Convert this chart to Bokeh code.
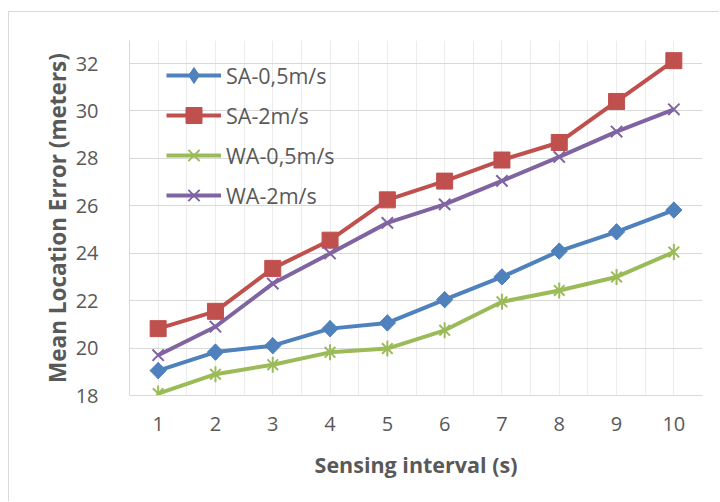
from bokeh.plotting import figure
from bokeh.models import Range1d, FixedTicker, Legend
from bokeh.embed import file_html
from bokeh.resources import INLINE
import math

# ---- data ----
intervals = [1, 2, 3, 4, 5, 6, 7, 8, 9, 10]
sa_05 = [19.05, 19.83, 20.1, 20.82, 21.06, 22.04, 23.0, 24.09, 24.9, 25.82]
sa_2 = [20.82, 21.55, 23.36, 24.55, 26.25, 27.04, 27.93, 28.67, 30.4, 32.12]
wa_05 = [18.08, 18.9, 19.3, 19.82, 19.98, 20.75, 21.95, 22.43, 23.0, 24.05]
wa_2 = [19.7, 20.9, 22.72, 23.99, 25.28, 26.06, 27.05, 28.06, 29.13, 30.07]
y_ticks = [18, 20, 22, 24, 26, 28, 30, 32]
series_names = ["SA-0,5m/s", "SA-2m/s", "WA-0,5m/s", "WA-2m/s"]
colors = ["#4F81BD", "#C0504D", "#9BBB59", "#8064A2"]

TXT = "#595959"
FONT = "Open Sans"

p = figure(width=711, height=490, output_backend="svg", toolbar_location=None,
           x_range=Range1d(0.5, 10.5), y_range=Range1d(18, 32.97),
           min_border_left=120, min_border_right=18, min_border_top=28, min_border_bottom=107)
p.styles = {"border-left": "1px solid #d9d9d9", "border-top": "1px solid #d9d9d9",
            "margin-left": "8px", "margin-top": "11px"}
p.outline_line_color = None
p.background_fill_color = "white"
p.border_fill_color = "white"

# grids
p.xgrid.ticker = FixedTicker(ticks=[x - 0.5 for x in intervals] + [x for x in intervals] + [intervals[-1] + 0.5])
p.xgrid.grid_line_color = "#ececec"
p.xgrid.grid_line_width = 1
p.ygrid.ticker = FixedTicker(ticks=y_ticks)
p.ygrid.grid_line_color = "#d9d9d9"
p.ygrid.grid_line_width = 1

# axes
for ax in (p.xaxis, p.yaxis):
    ax.axis_line_color = "#d9d9d9"
    ax.axis_line_width = 1
    ax.major_tick_line_color = None
    ax.minor_tick_line_color = None
    ax.major_tick_out = 0
    ax.major_tick_in = 0
    ax.major_label_text_font = FONT
    ax.major_label_text_font_size = "20px"
    ax.major_label_text_color = TXT
    ax.axis_label_text_font = FONT
    ax.axis_label_text_font_style = "bold"
    ax.axis_label_text_color = TXT

p.xaxis.ticker = FixedTicker(ticks=intervals)
p.yaxis.ticker = FixedTicker(ticks=y_ticks)
p.xaxis.major_label_standoff = 21
p.yaxis.major_label_standoff = 31
p.xaxis.axis_label = "Sensing interval (s)"
p.yaxis.axis_label = "Mean Location Error (meters)"
p.xaxis.axis_label_text_font_size = "21.5px"
p.yaxis.axis_label_text_font_size = "22.5px"
p.xaxis.axis_label_standoff = 16
p.yaxis.axis_label_standoff = 0

LW = 4
# SA-0,5 : diamond
r1 = p.line(intervals, sa_05, line_color=colors[0], line_width=LW)
leg1 = p.scatter(intervals, sa_05, marker="diamond", size=16, fill_color=colors[0], line_color=colors[0])
m1 = p.scatter(intervals, sa_05, marker="square", angle=math.pi / 4, size=11.5,
               fill_color=colors[0], line_color=colors[0])
# SA-2 : square
r2 = p.line(intervals, sa_2, line_color=colors[1], line_width=LW)
m2 = p.scatter(intervals, sa_2, marker="square", size=16,
               fill_color=colors[1], line_color=colors[1])
# WA-0,5 : star (x + vertical bar)
r3 = p.line(intervals, wa_05, line_color=colors[2], line_width=LW)
m3 = p.scatter(intervals, wa_05, marker="x", size=15, line_color=colors[2], line_width=2)
m3b = p.scatter(intervals, wa_05, marker="dash", angle=math.pi / 2, size=16,
                line_color=colors[2], line_width=2)
# WA-2 : x
r4 = p.line(intervals, wa_2, line_color=colors[3], line_width=LW)
m4 = p.scatter(intervals, wa_2, marker="x", size=16, line_color=colors[3], line_width=2)

legend = Legend(items=[(series_names[0], [r1, leg1]),
                       (series_names[1], [r2, m2]),
                       (series_names[2], [r3, m3, m3b]),
                       (series_names[3], [r4, m4])],
                location=(37, 180))
legend.background_fill_alpha = 0
legend.border_line_alpha = 0
legend.margin = 0
legend.padding = 0
legend.spacing = 0
legend.glyph_width = 55
legend.glyph_height = 40
legend.label_height = 40
legend.label_standoff = 5
legend.label_text_font = FONT
legend.label_text_font_size = "21.5px"
legend.label_text_color = TXT
p.add_layout(legend)

open("out.html", "w").write(file_html(p, INLINE))
